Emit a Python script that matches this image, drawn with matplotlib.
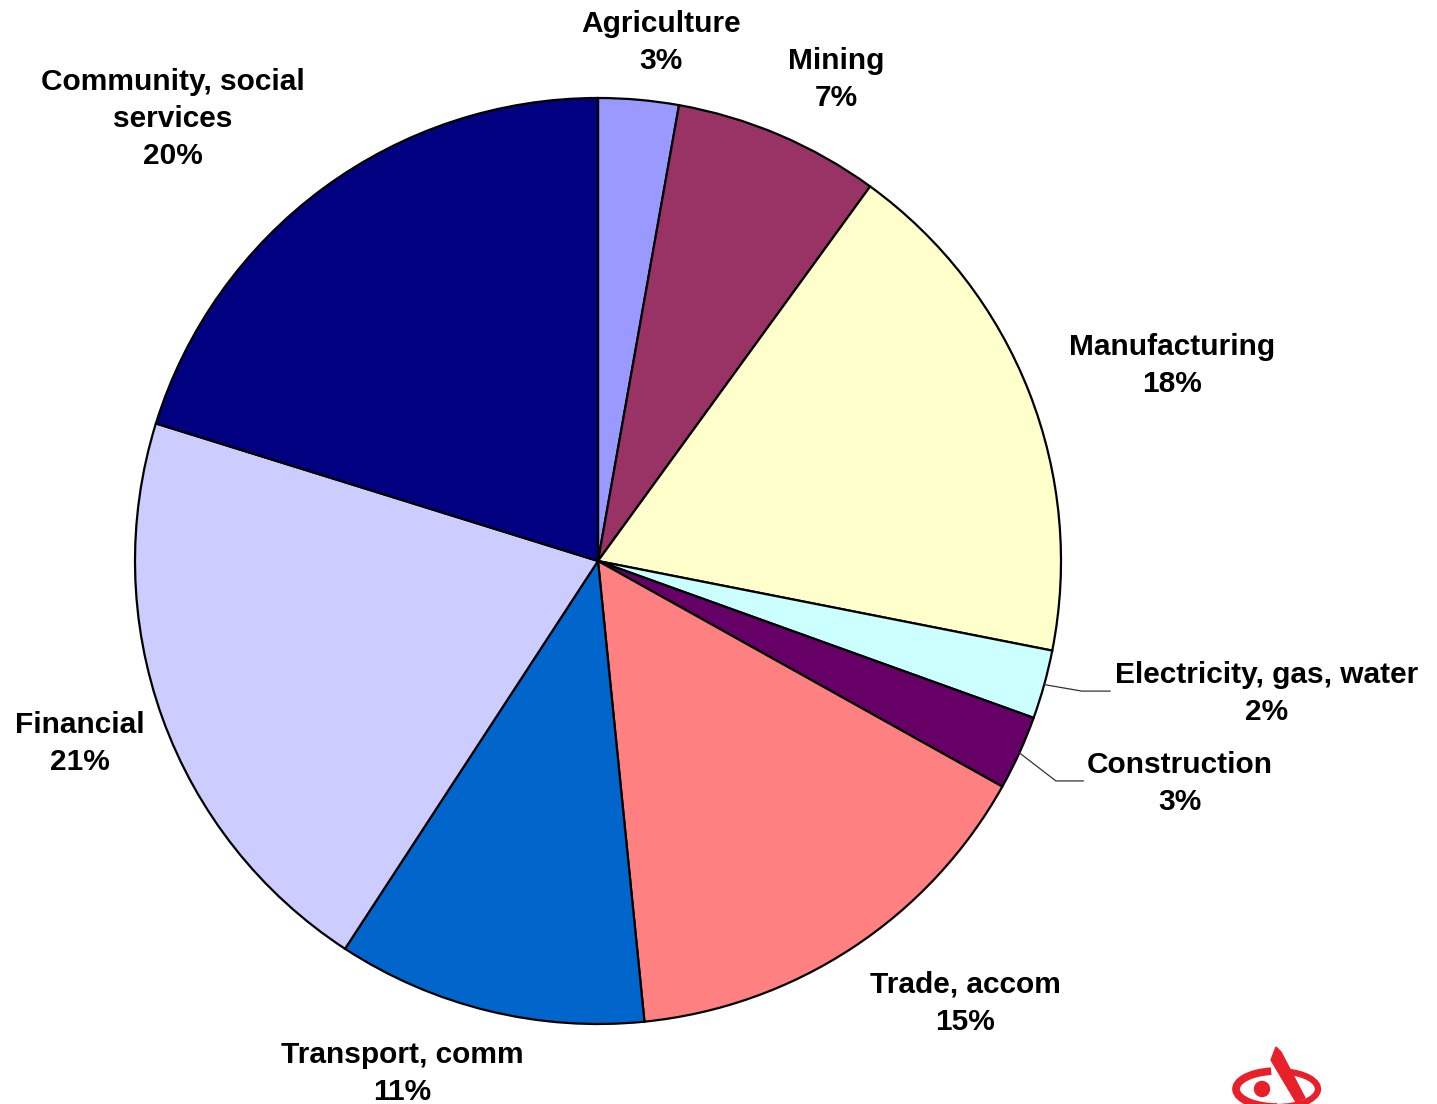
import matplotlib
matplotlib.use("Agg")
import matplotlib.pyplot as plt
from matplotlib.patches import Arc, Circle, Polygon
import numpy as np

# Share of output by sector (%)
sectors = ["Agriculture", "Mining", "Manufacturing", "Electricity, gas, water",
           "Construction", "Trade, accom", "Transport, comm", "Financial",
           "Community, social\nservices"]
shares = [2.8, 7.2, 18.1, 2.4, 2.6, 15.3, 10.8, 20.6, 20.2]
colors = ["#9999FF", "#993366", "#FFFFCC", "#CCFFFF", "#660066",
          "#FF8080", "#0066CC", "#CCCCFF", "#000080"]

# Label placement (in pie-radius units) and which labels get leader lines
label_xy = [(0.136, 1.120), (0.514, 1.040), (1.240, 0.423), (1.445, -0.286),
            (1.257, -0.480), (0.793, -0.955), (-0.423, -1.107),
            (-1.119, -0.394), (-0.918, 0.954)]
leaders = {3: [(1.045, -0.281), (1.106, -0.281)],
           4: [(0.989, -0.475), (1.048, -0.475)]}

W, H = 1437, 1104
fig = plt.figure(figsize=(W / 100, H / 100), dpi=100)
ax = fig.add_axes([0, 0, 1, 1])

wedges, _ = ax.pie(shares, colors=colors, startangle=90, counterclock=False,
                   radius=1.0,
                   wedgeprops=dict(edgecolor="black", linewidth=1.6))

total = sum(shares)
font = dict(family=["Liberation Sans", "DejaVu Sans"], fontweight="bold",
            fontsize=21.5, color="black")
for i, (name, val) in enumerate(zip(sectors, shares)):
    pct = 100 * val / total
    x, y = label_xy[i]
    ax.text(x, y, f"{name}\n{pct:.0f}%", ha="center", va="center",
            linespacing=1.4, **font)

# Leader lines from the thin slices to their labels
for i, pts in leaders.items():
    w = wedges[i]
    mid = np.deg2rad((w.theta1 + w.theta2) / 2)
    xs = [np.cos(mid)] + [p[0] for p in pts]
    ys = [np.sin(mid)] + [p[1] for p in pts]
    ax.plot(xs, ys, color="#333333", linewidth=0.9)

cx, cy, r = 598, 561, 463
ax.set_xlim(-cx / r, (W - cx) / r)
ax.set_ylim(-(H - cy) / r, cy / r)
ax.set_aspect("auto")
ax.axis("off")

# Corner logo, drawn in pixel coordinates (y grows downward)
lg = fig.add_axes([0, 0, 1, 1])
lg.set_xlim(0, W)
lg.set_ylim(H, 0)
lg.axis("off")
red = "#E8202A"
lg.add_patch(Arc((1277, 1089), 82, 36, theta1=90, theta2=252,
                 color=red, linewidth=5.5))
lg.add_patch(Arc((1277, 1089), 82, 36, theta1=292, theta2=450,
                 color=red, linewidth=4.5))
lg.add_patch(Circle((1262, 1089), 7.5, color=red))
lg.add_patch(Polygon([(1276, 1047), (1281, 1052), (1305, 1098), (1296, 1102),
                      (1271, 1060)], closed=True, color=red))

fig.savefig("out.png", dpi=100, facecolor="white")
